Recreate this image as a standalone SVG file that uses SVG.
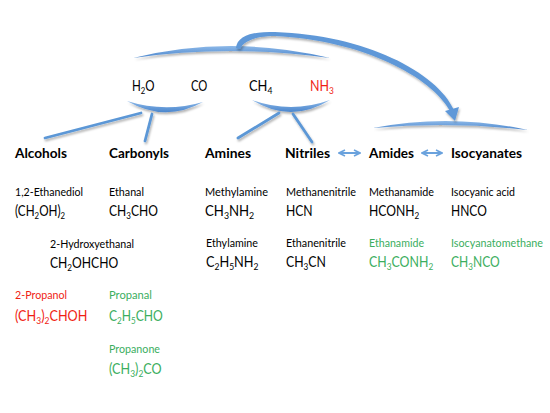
<svg xmlns="http://www.w3.org/2000/svg" width="550" height="413" viewBox="0 0 550 413">
<style>
text{font-family:Lato,"Liberation Sans",sans-serif;fill:#000}
.h{font-size:14px;font-weight:bold}
.n{font-size:11px}
.f{font-size:15px}
.s{font-size:10px}
.red{fill:#f01e14}
.grn{fill:#3bae5e}
.ln{stroke:#5b97d6;stroke-width:2.8;fill:none;stroke-linecap:round}
.da{stroke:#6aa2dd;stroke-width:2;fill:none;marker-start:url(#ah);marker-end:url(#ah)}
.br{fill:url(#bg);filter:url(#sh)}
</style>
<defs>
<linearGradient id="bg" x1="0" y1="0" x2="0" y2="1">
<stop offset="0" stop-color="#8cb8e8"/>
<stop offset="1" stop-color="#4b86cd"/>
</linearGradient>
<filter id="sh" x="-10%" y="-50%" width="120%" height="200%">
<feDropShadow dx="1" dy="2" stdDeviation="1" flood-color="#000" flood-opacity="0.3"/>
</filter>
<marker id="ah" viewBox="0 0 8 8" refX="7" refY="4" markerWidth="4" markerHeight="4" orient="auto-start-reverse" markerUnits="strokeWidth">
<path d="M1,1 L7,4 L1,7" fill="none" stroke="#6aa2dd" stroke-width="1.6"/>
</marker>
</defs>

<g id="connectors">
<path class="br" d="M133,58 Q230,34 330,58 Q230,44 133,58 Z"/>
<path class="br" d="M127,101 Q165,123 203,102 Q165,113 127,101 Z"/>
<path class="br" d="M252,100 Q291,124 330,100 Q291,114 252,100 Z"/>
<path class="br" d="M373,128 Q450,113 528,130 Q450,121 373,128 Z"/>
<g filter="url(#sh)">
<path d="M236,48 C237,36 252,31 275,32 C365,35 437,72 454,110 L450,111 C432,77 362,40 275,36 C258,36 244,40 240,49 Z" fill="#5f98d8"/>
<path d="M445,111 L459,107 L455,121 Z" fill="#5f98d8"/>
</g>
<g filter="url(#sh)">
<line class="ln" x1="141" y1="113" x2="45" y2="138"/>
<line class="ln" x1="152" y1="114" x2="145" y2="141"/>
<line class="ln" x1="279" y1="113" x2="238" y2="138"/>
<line class="ln" x1="293" y1="114" x2="312" y2="142"/>
</g>
<line class="da" x1="339" y1="153" x2="360" y2="153"/>
<line class="da" x1="422" y1="153" x2="442" y2="153"/>
</g>

<g id="h2o"><text class="f" transform="translate(132,90.5) scale(0.77,1)">H<tspan class="s" dy="3">2</tspan><tspan dy="-3">O</tspan></text></g>
<g id="co"><text class="f" transform="translate(191,90.5) scale(0.75,1)">CO</text></g>
<g id="ch4"><text class="f" transform="translate(249,90.5) scale(0.86,1)">CH<tspan class="s" dy="3">4</tspan></text></g>
<g id="nh3"><text class="f red" transform="translate(310,90.5) scale(0.83,1)">NH<tspan class="s" dy="3">3</tspan></text></g>

<g id="alcohols"><text class="h" x="15" y="158" textLength="52" lengthAdjust="spacingAndGlyphs">Alcohols</text></g>
<g id="carbonyls"><text class="h" x="109" y="158" textLength="60" lengthAdjust="spacingAndGlyphs">Carbonyls</text></g>
<g id="amines"><text class="h" x="205" y="158" textLength="46" lengthAdjust="spacingAndGlyphs">Amines</text></g>
<g id="nitriles"><text class="h" x="285" y="158" textLength="45" lengthAdjust="spacingAndGlyphs">Nitriles</text></g>
<g id="amides"><text class="h" x="369" y="158" textLength="45" lengthAdjust="spacingAndGlyphs">Amides</text></g>
<g id="isocyanates"><text class="h" x="451" y="158" textLength="71" lengthAdjust="spacingAndGlyphs">Isocyanates</text></g>

<g id="ethanediol">
<text class="n" x="15" y="195.5" textLength="68" lengthAdjust="spacingAndGlyphs">1,2-Ethanediol</text>
<text class="f" transform="translate(15,216) scale(0.78,1)">(CH<tspan class="s" dy="3">2</tspan><tspan dy="-3">OH)</tspan><tspan class="s" dy="3">2</tspan></text>
</g>
<g id="ethanal">
<text class="n" x="109" y="195.5" textLength="35" lengthAdjust="spacingAndGlyphs">Ethanal</text>
<text class="f" transform="translate(109,216) scale(0.805,1)">CH<tspan class="s" dy="3">3</tspan><tspan dy="-3">CHO</tspan></text>
</g>
<g id="methylamine">
<text class="n" x="205" y="195.5" textLength="63" lengthAdjust="spacingAndGlyphs">Methylamine</text>
<text class="f" transform="translate(205,216) scale(0.88,1)">CH<tspan class="s" dy="3">3</tspan><tspan dy="-3">NH</tspan><tspan class="s" dy="3">2</tspan></text>
</g>
<g id="methanenitrile">
<text class="n" x="286" y="195.5" textLength="70" lengthAdjust="spacingAndGlyphs">Methanenitrile</text>
<text class="f" transform="translate(286,216) scale(0.81,1)">HCN</text>
</g>
<g id="methanamide">
<text class="n" x="369" y="195.5" textLength="65" lengthAdjust="spacingAndGlyphs">Methanamide</text>
<text class="f" transform="translate(369,216) scale(0.81,1)">HCONH<tspan class="s" dy="3">2</tspan></text>
</g>
<g id="isocyanicacid">
<text class="n" x="451" y="195.5" textLength="64" lengthAdjust="spacingAndGlyphs">Isocyanic acid</text>
<text class="f" transform="translate(451,216) scale(0.8,1)">HNCO</text>
</g>

<g id="hydroxyethanal">
<text class="n" x="50" y="247.5" textLength="84" lengthAdjust="spacingAndGlyphs">2-Hydroxyethanal</text>
<text class="f" transform="translate(50,268) scale(0.81,1)">CH<tspan class="s" dy="3">2</tspan><tspan dy="-3">OHCHO</tspan></text>
</g>
<g id="ethylamine">
<text class="n" x="206" y="246.5" textLength="52" lengthAdjust="spacingAndGlyphs">Ethylamine</text>
<text class="f" transform="translate(206,267) scale(0.85,1)">C<tspan class="s" dy="3">2</tspan><tspan dy="-3">H</tspan><tspan class="s" dy="3">5</tspan><tspan dy="-3">NH</tspan><tspan class="s" dy="3">2</tspan></text>
</g>
<g id="ethanenitrile">
<text class="n" x="286" y="246.5" textLength="60" lengthAdjust="spacingAndGlyphs">Ethanenitrile</text>
<text class="f" transform="translate(286,267) scale(0.82,1)">CH<tspan class="s" dy="3">3</tspan><tspan dy="-3">CN</tspan></text>
</g>
<g id="ethanamide">
<text class="n grn" x="369" y="246.5" textLength="55" lengthAdjust="spacingAndGlyphs">Ethanamide</text>
<text class="f grn" transform="translate(369,267) scale(0.825,1)">CH<tspan class="s" dy="3">3</tspan><tspan dy="-3">CONH</tspan><tspan class="s" dy="3">2</tspan></text>
</g>
<g id="isocyanatomethane">
<text class="n grn" x="451" y="246.5" textLength="92" lengthAdjust="spacingAndGlyphs">Isocyanatomethane</text>
<text class="f grn" transform="translate(451,267) scale(0.805,1)">CH<tspan class="s" dy="3">3</tspan><tspan dy="-3">NCO</tspan></text>
</g>

<g id="propanol">
<text class="n red" x="15" y="298.5" textLength="52" lengthAdjust="spacingAndGlyphs">2-Propanol</text>
<text class="f red" transform="translate(15,320.5) scale(0.845,1)">(CH<tspan class="s" dy="3">3</tspan><tspan dy="-3">)</tspan><tspan class="s" dy="3">2</tspan><tspan dy="-3">CHOH</tspan></text>
</g>
<g id="propanal">
<text class="n grn" x="109" y="298.5" textLength="43" lengthAdjust="spacingAndGlyphs">Propanal</text>
<text class="f grn" transform="translate(109,320.5) scale(0.81,1)">C<tspan class="s" dy="3">2</tspan><tspan dy="-3">H</tspan><tspan class="s" dy="3">5</tspan><tspan dy="-3">CHO</tspan></text>
</g>
<g id="propanone">
<text class="n grn" x="109" y="352.5" textLength="51" lengthAdjust="spacingAndGlyphs">Propanone</text>
<text class="f grn" transform="translate(109,374) scale(0.84,1)">(CH<tspan class="s" dy="3">3</tspan><tspan dy="-3">)</tspan><tspan class="s" dy="3">2</tspan><tspan dy="-3">CO</tspan></text>
</g>
</svg>
